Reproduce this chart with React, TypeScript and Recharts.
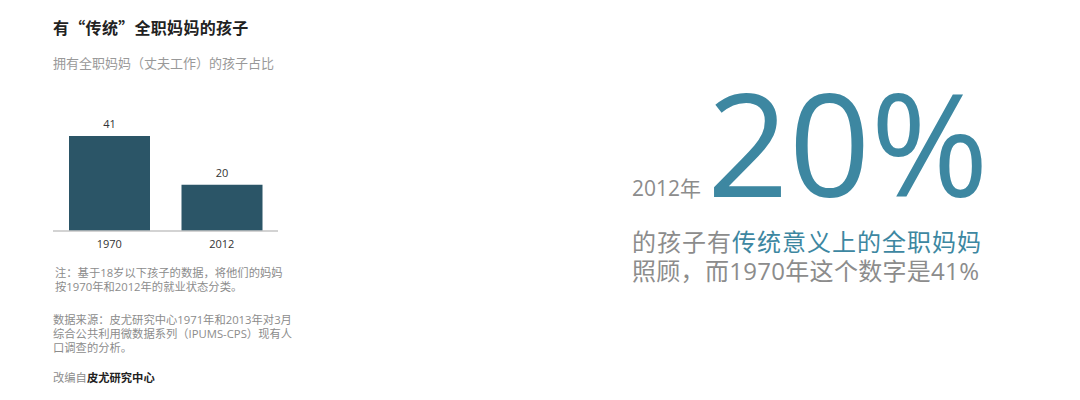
import { BarChart, Bar, XAxis, YAxis, LabelList } from 'recharts';

const years = ['1970', '2012'];
const shares = [41, 20];

const title = '有“传统”全职妈妈的孩子';
const subtitle = '拥有全职妈妈（丈夫工作）的孩子占比';
const noteLines = ['注：基于18岁以下孩子的数据，将他们的妈妈', '按1970年和2012年的就业状态分类。'];
const sourceLines = [
  '数据来源：皮尤研究中心1971年和2013年对3月',
  '综合公共利用微数据系列（IPUMS-CPS）现有人',
  '口调查的分析。',
];

const data = years.map((year, i) => ({ year, value: shares[i] }));

const FONT = "'Open Sans', 'Noto Sans CJK SC', sans-serif";
const CJK = "'Noto Sans CJK SC', sans-serif";
const TEAL = '#3d87a1';
const GRAY = '#8c8c8c';

export default function App() {
  return (
    <div
      style={{
        position: 'absolute',
        left: 0,
        top: 0,
        width: 1080,
        height: 400,
        background: '#fff',
        fontFamily: FONT,
      }}
    >
      <div style={{ position: 'absolute', left: 53, top: 100 }}>
        <BarChart width={225} height={160} data={data} margin={{ top: 36, right: 0, left: 0, bottom: 0 }}>
          <XAxis
            dataKey="year"
            height={29}
            tickLine={false}
            axisLine={{ stroke: '#c4c4c4', strokeWidth: 1.5 }}
            tick={{ fontSize: 11, fill: '#333', fontFamily: FONT }}
            tickMargin={3}
          />
          <YAxis hide domain={[0, 41]} />
          <Bar dataKey="value" fill="#2b5567" barSize={81} isAnimationActive={false}>
            <LabelList dataKey="value" position="top" offset={8} style={{ fontSize: 11, fill: '#333', fontFamily: FONT }} />
          </Bar>
        </BarChart>
      </div>

      <svg width={1080} height={400} style={{ position: 'absolute', left: 0, top: 0, pointerEvents: 'none' }}>
        <text x={53} y={34} fontSize={16} fontWeight={600} fill="#222" letterSpacing={0.3} fontFamily={CJK}>
          {title}
        </text>
        <text x={53} y={68} fontSize={13} fill="#999" fontFamily={CJK}>
          {subtitle}
        </text>
        {noteLines.map((t, i) => (
          <text key={t} x={55} y={277 + i * 13.5} fontSize={11.3} fill={GRAY} fontFamily={FONT}>
            {t}
          </text>
        ))}
        {sourceLines.map((t, i) => (
          <text key={t} x={53} y={323.5 + i * 14} fontSize={11.3} fill={GRAY} fontFamily={FONT}>
            {t}
          </text>
        ))}
        <text x={53} y={382} fontSize={11.3} fill={GRAY} fontFamily={FONT}>
          改编自
          <tspan fill="#222" fontWeight={700}>
            皮尤研究中心
          </tspan>
        </text>

        <text x={632} y={196} fontSize={21} fill={GRAY} fontFamily={FONT}>
          {`${years[1]}年`}
        </text>
        <text x={707} y={197} fontSize={143} fill={TEAL} fontFamily={FONT}>
          {`${shares[1]}%`}
        </text>
        <text x={632} y={251} fontSize={24} fill={GRAY} letterSpacing={1} fontFamily={FONT}>
          的孩子有<tspan fill={TEAL}>传统意义上的全职妈妈</tspan>
        </text>
        <text x={632} y={280} fontSize={24} fill={GRAY} letterSpacing={0.3} fontFamily={FONT}>
          {`照顾，而${years[0]}年这个数字是${shares[0]}%`}
        </text>
      </svg>
    </div>
  );
}
